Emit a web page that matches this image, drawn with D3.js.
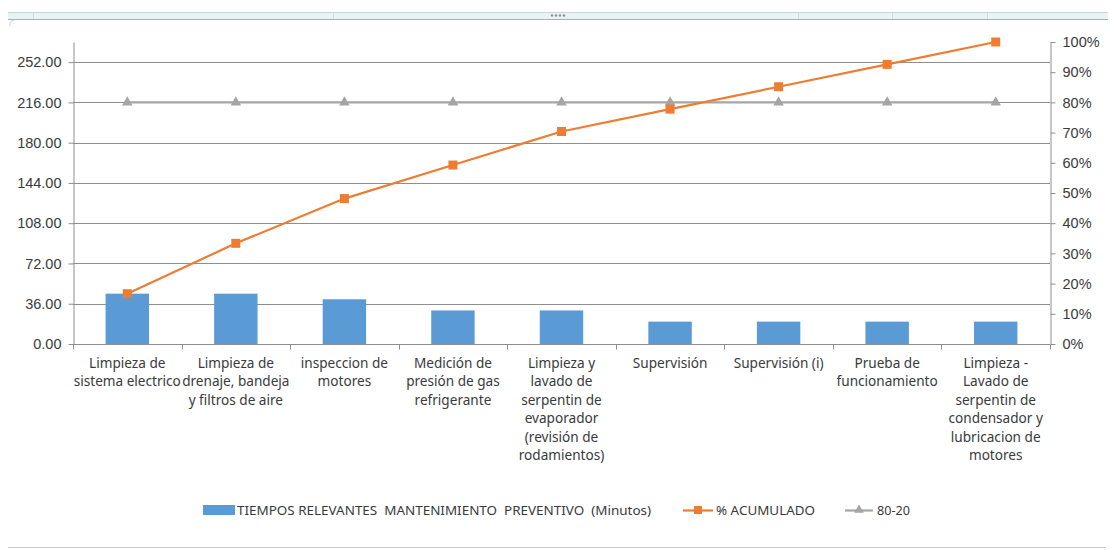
<!DOCTYPE html>
<html>
<head>
<meta charset="utf-8">
<script src="https://cdn.jsdelivr.net/npm/d3@7"></script>
<style>
  html, body { margin: 0; padding: 0; background: #ffffff; }
  svg { display: block; font-family: "Noto Sans", "Open Sans", sans-serif; }
  .pre { white-space: pre; }
</style>
</head>
<body>
<svg id="chart" width="1110" height="550"></svg>
<script>
// Task names (line breaks mark how each axis label wraps)
const categories = [
  "Limpieza de\nsistema electrico",
  "Limpieza de\ndrenaje, bandeja\ny filtros de aire",
  "inspeccion de\nmotores",
  "Medición de\npresión de gas\nrefrigerante",
  "Limpieza y\nlavado de\nserpentin de\nevaporador\n(revisión de\nrodamientos)",
  "Supervisión",
  "Supervisión (i)",
  "Prueba de\nfuncionamiento",
  "Limpieza -\nLavado de\nserpentin de\ncondensador y\nlubricacion de\nmotores"
];
// Preventive maintenance time per task (minutes)
const minutes = [45, 45, 40, 30, 30, 20, 20, 20, 20];
// Pareto reference level
const threshold = [0.8, 0.8, 0.8, 0.8, 0.8, 0.8, 0.8, 0.8, 0.8];
// Axis tick values
const leftTicks = [0, 36, 72, 108, 144, 180, 216, 252];
const rightTicks = [0, 0.1, 0.2, 0.3, 0.4, 0.5, 0.6, 0.7, 0.8, 0.9, 1.0];
// Legend entries
const legendLabels = ["TIEMPOS RELEVANTES  MANTENIMIENTO  PREVENTIVO  (Minutos)", "% ACUMULADO", "80-20"];

const total = d3.sum(minutes);
const cumulative = d3.cumsum(minutes).map(v => v / total);

const svg = d3.select("#chart");
const C = { bar: "#5b9bd5", line: "#ed7d31", ref: "#a5a5a5", grid: "#8e8e8e", text: "#3a3a3a" };
const plotL = 73, plotR = 1050, plotT = 42, plotB = 344;

// Worksheet frame behind the chart
const frame = svg.append("g");
frame.append("rect").attr("x", 8).attr("y", 12).attr("width", 1100).attr("height", 7)
  .attr("fill", "#e8f4f4").attr("stroke", "none");
frame.append("line").attr("x1", 8).attr("x2", 1108).attr("y1", 12.5).attr("y2", 12.5).attr("stroke", "#c9d6d6");
frame.append("line").attr("x1", 8).attr("x2", 1108).attr("y1", 19.5).attr("y2", 19.5).attr("stroke", "#a9b2b2");
[33, 333, 798, 892, 987].forEach(xv => frame.append("line")
  .attr("x1", xv + 0.5).attr("x2", xv + 0.5).attr("y1", 12).attr("y2", 19).attr("stroke", "#d2dddd"));
d3.range(4).forEach(i => frame.append("circle").attr("cx", 552 + i * 4).attr("cy", 15.5).attr("r", 1.2).attr("fill", "#8a9090"));
frame.append("line").attr("x1", 8).attr("x2", 1106).attr("y1", 547.5).attr("y2", 547.5).attr("stroke", "#c4c8c8");
frame.append("path").attr("d", "M10,26 Q9,21 14,20").attr("fill", "none").attr("stroke", "#c9d0d0");

// Scales
const x = d3.scaleBand().domain(d3.range(categories.length)).range([plotL, plotR])
  .paddingInner(0.6).paddingOuter(0.3);
const yL = d3.scaleLinear().domain([0, total]).range([plotB, plotT]);
const yR = d3.scaleLinear().domain([0, 1]).range([plotB, plotT]);
const cx = i => x(i) + x.bandwidth() / 2;

// Horizontal gridlines
svg.append("g").selectAll("line").data(leftTicks.filter(t => t > 0)).join("line")
  .attr("x1", plotL).attr("x2", plotR)
  .attr("y1", d => Math.round(yL(d)) + 0.5).attr("y2", d => Math.round(yL(d)) + 0.5)
  .attr("stroke", C.grid).attr("stroke-width", 1);

// Bars
svg.append("g").selectAll("rect").data(minutes).join("rect")
  .attr("x", (d, i) => x(i)).attr("width", x.bandwidth())
  .attr("y", d => yL(d)).attr("height", d => yL(0) - yL(d))
  .attr("fill", C.bar);

// Axes
const axisStyle = g => {
  g.select(".domain").attr("stroke", C.grid);
  g.selectAll(".tick line").attr("stroke", C.grid);
  g.selectAll(".tick text").attr("fill", C.text).attr("font-size", 14.5);
};
svg.append("g").attr("transform", `translate(${plotL + 0.5},0)`)
  .call(d3.axisLeft(yL).tickValues(leftTicks).tickFormat(d3.format(".2f")).tickSize(5).tickSizeOuter(0).tickPadding(7))
  .call(axisStyle);
svg.append("g").attr("transform", `translate(${plotR + 0.5},0)`)
  .call(d3.axisRight(yR).tickValues(rightTicks).tickFormat(d3.format(".0%")).tickSize(5).tickSizeOuter(0).tickPadding(7))
  .call(axisStyle);

// Category axis with ticks on band boundaries
const xAxis = svg.append("g").attr("transform", `translate(0,${plotB + 0.5})`);
xAxis.append("line").attr("x1", plotL).attr("x2", plotR).attr("stroke", C.grid);
xAxis.selectAll("line.tk").data(d3.range(categories.length + 1)).join("line").attr("class", "tk")
  .attr("x1", i => Math.round(plotL + i * x.step()) + 0.5).attr("x2", i => Math.round(plotL + i * x.step()) + 0.5)
  .attr("y1", 0).attr("y2", 5).attr("stroke", C.grid);
xAxis.selectAll("text").data(categories).join("text")
  .attr("text-anchor", "middle").attr("fill", C.text).attr("font-size", 13.6)
  .each(function (d, i) {
    d3.select(this).selectAll("tspan").data(d.split("\n")).join("tspan")
      .attr("x", cx(i)).attr("y", (l, j) => 23 + j * 18.5).text(l => l);
  });

// 80-20 reference line
svg.append("path").datum(threshold)
  .attr("d", d3.line().x((d, i) => cx(i)).y(d => yR(d)))
  .attr("fill", "none").attr("stroke", C.ref).attr("stroke-width", 2.2);
const tri = d3.symbol().type(d3.symbolTriangle).size(48);
svg.append("g").selectAll("path").data(threshold).join("path")
  .attr("transform", (d, i) => `translate(${cx(i)},${yR(d)})`).attr("d", tri).attr("fill", C.ref);

// Cumulative percentage line
svg.append("path").datum(cumulative)
  .attr("d", d3.line().x((d, i) => cx(i)).y(d => yR(d)))
  .attr("fill", "none").attr("stroke", C.line).attr("stroke-width", 2.2);
svg.append("g").selectAll("rect").data(cumulative).join("rect")
  .attr("x", (d, i) => cx(i) - 4.5).attr("y", d => yR(d) - 4.5)
  .attr("width", 9).attr("height", 9).attr("fill", C.line);

// Legend
const lg = svg.append("g").attr("font-size", 12.5).attr("fill", C.text);
lg.append("rect").attr("x", 203).attr("y", 505).attr("width", 32).attr("height", 10).attr("fill", C.bar);
lg.append("text").attr("class", "pre").attr("x", 237).attr("y", 515).attr("textLength", 414).attr("lengthAdjust", "spacingAndGlyphs").text(legendLabels[0]);
lg.append("line").attr("x1", 683).attr("x2", 713).attr("y1", 510.5).attr("y2", 510.5).attr("stroke", C.line).attr("stroke-width", 2.2);
lg.append("rect").attr("x", 694).attr("y", 506).attr("width", 8).attr("height", 8).attr("fill", C.line);
lg.append("text").attr("x", 716).attr("y", 515).attr("textLength", 99).attr("lengthAdjust", "spacingAndGlyphs").text(legendLabels[1]);
lg.append("line").attr("x1", 845).attr("x2", 873).attr("y1", 510.5).attr("y2", 510.5).attr("stroke", C.ref).attr("stroke-width", 2.2);
lg.append("path").attr("transform", "translate(859,510)").attr("d", d3.symbol().type(d3.symbolTriangle).size(40)).attr("fill", C.ref);
lg.append("text").attr("x", 877).attr("y", 515).attr("textLength", 33).attr("lengthAdjust", "spacingAndGlyphs").text(legendLabels[2]);
</script>
</body>
</html>
